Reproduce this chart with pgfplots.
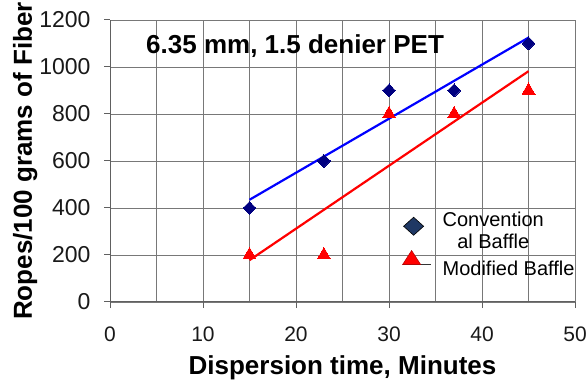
\documentclass[border=0pt]{standalone}
\usepackage{fontspec}
\setmainfont{Liberation Sans}
\usepackage{pgfplots}
\pgfplotsset{compat=1.18}
\definecolor{navy}{RGB}{0,0,128}
\definecolor{legnavy}{RGB}{31,56,100}
\definecolor{gridgray}{RGB}{120,120,120}
\begin{document}
\begin{tikzpicture}
\begin{axis}[
  name=ax,
  scale only axis, width=465pt, height=282pt,
  xmin=0, xmax=50, ymin=0, ymax=1200,
  xtick={0,10,...,50}, minor xtick={5,15,...,45},
  ytick={0,200,...,1200},
  grid=both,
  major grid style={gridgray, line width=0.9pt},
  minor grid style={gridgray, line width=0.9pt},
  axis line style={gridgray!80!black, line width=1pt},
  axis lines*=left,
  tick align=outside,
  major tick length=6pt, minor tick length=0pt,
  tick style={gridgray!80!black, line width=1pt},
  /pgf/number format/assume math mode=true,
  /pgf/number format/1000 sep={},
  ticklabel style={text=black!90},
  yticklabel style={font=\fontsize{23}{27}\selectfont, xshift=-10pt},
  xticklabel style={font=\fontsize{21}{25}\selectfont, yshift=-15pt},
  xlabel={Dispersion time, Minutes},
  ylabel={Ropes/100 grams of Fiber},
  label style={font=\bfseries\fontsize{26}{30}\selectfont},
  xlabel style={yshift=-7pt},
  ylabel shift=-5pt,
  legend style={at={(rel axis cs:0.628,0.326)}, anchor=north west, draw=none, fill=none,
    font=\fontsize{20}{22}\selectfont, cells={align=center}, row sep=-2pt,
    inner sep=0pt, column sep=0pt},
  legend cell align=left,
]
\addlegendimage{legend image code/.code={
  \path[draw=none] (0pt,0pt) -- (38pt,0pt);
  \filldraw[fill=legnavy, draw=black, line width=0.6pt] (11pt,14pt) -- (21pt,5pt) -- (11pt,-4pt) -- (1pt,5pt) -- cycle;}}
\addlegendentry{Convention\\al Baffle}
\addlegendimage{legend image code/.code={
  \path[draw=none] (0pt,0pt) -- (38pt,0pt);
  \draw[black!80, line width=0.8pt] (0pt,4pt) -- (28pt,4pt);
  \fill[red, draw=red!70!black, line width=0.5pt] (0pt,4pt) -- (18pt,4pt) -- (9pt,18pt) -- cycle;}}
\addlegendentry{Modified Baffle}
\addplot[red, line width=2.2pt, forget plot] coordinates {(15,178) (45,982)};
\addplot[only marks, mark=triangle*, mark size=7.5pt, forget plot,
  mark options={fill=red, draw=red, line width=0pt}]
  coordinates {(15,200) (23,200) (30,800) (37,800) (45,900)};
\addplot[blue, line width=2.2pt, forget plot] coordinates {(15,435) (45,1125)};
\addplot[only marks, mark=diamond*, mark size=6.5pt, forget plot,
  mark options={xscale=1.33, fill=navy, draw=navy, line width=0pt}]
  coordinates {(15,400) (23,600) (30,900) (37,900) (45,1100)};
\node[font=\bfseries\fontsize{26}{30}\selectfont] at (axis cs:19.9,1087) {6.35 mm, 1.5 denier PET};
\end{axis}
\path (ax.south west) ++(-110pt,-77pt) coordinate (bbA);
\path (ax.north east) ++(12pt,20pt) coordinate (bbB);
\pgfresetboundingbox
\useasboundingbox (bbA) rectangle (bbB);
\end{tikzpicture}
\end{document}
